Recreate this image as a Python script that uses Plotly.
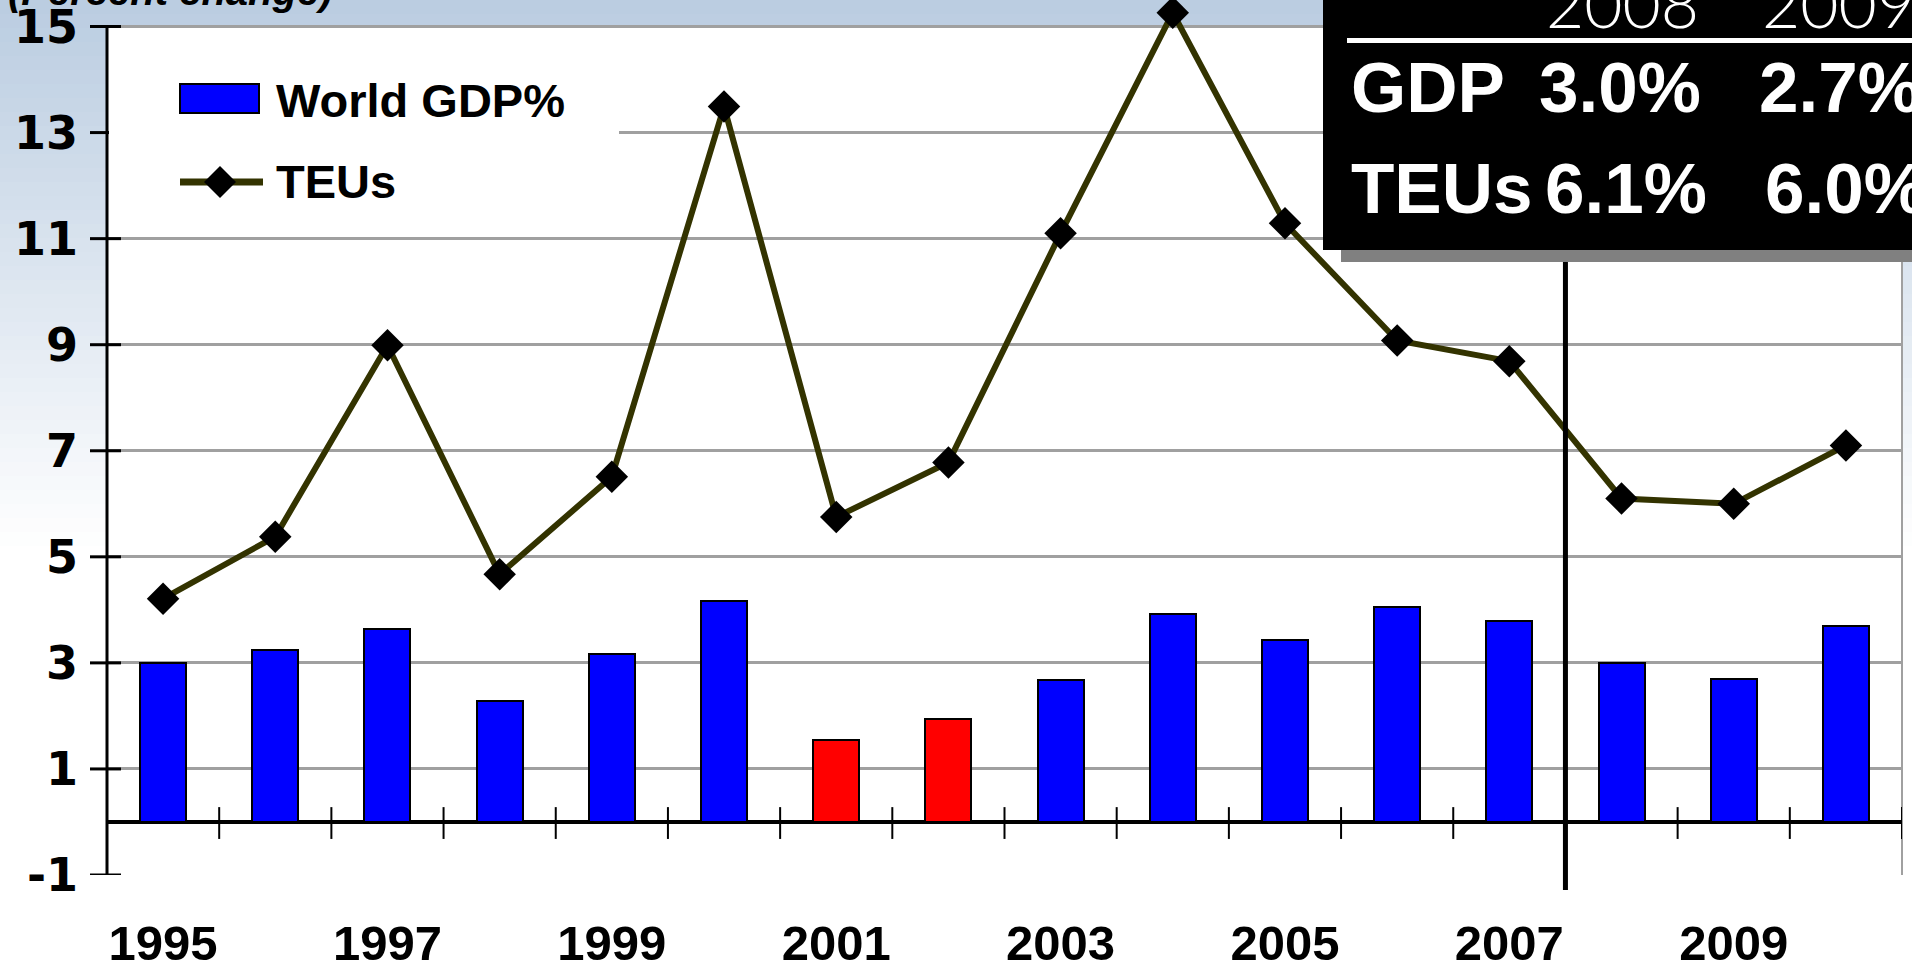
import plotly.graph_objects as go

# ---------------- data ----------------
years = list(range(1995, 2011))
gdp = [3.0, 3.24, 3.63, 2.28, 3.17, 4.16, 1.54, 1.95, 2.67, 3.93, 3.43, 4.05, 3.79, 3.0, 2.7, 3.7]
teus = [4.21, 5.38, 8.99, 4.67, 6.51, 13.49, 5.75, 6.78, 11.1, 15.26, 11.29, 9.08, 8.69, 6.1, 6.0, 7.1]
highlight_years = [2001, 2002]
x_tick_years = [1995, 1997, 1999, 2001, 2003, 2005, 2007, 2009]
y_ticks = [-1, 1, 3, 5, 7, 9, 11, 13, 15]
forecast_split = 2007.5
table_years = ["2008", "2009"]
table_rows = [("GDP", "3.0%", "2.7%"), ("TEUs", "6.1%", "6.0%")]

# ---------------- geometry helpers (pixels -> paper) ----------------
W, H = 1912, 966
ML, MR, MT, MB = 107, 10, 0, 91
PW = W - ML - MR
PH = H - MT - MB


def X(px):
    return (px - ML) / PW


def Y(py):
    return (H - MB - py) / PH


BLUE = "#0000ff"
RED = "#ff0000"
OLIVE = "#333300"
GRID = "#a0a0a0"
ARIAL = "Liberation Sans"

bar_colors = [RED if y in highlight_years else BLUE for y in years]

fig = go.Figure()
fig.add_trace(go.Bar(
    x=years, y=gdp, width=0.41, name="World GDP%",
    marker=dict(color=bar_colors, line=dict(color="black", width=2)),
))
fig.add_trace(go.Scatter(
    x=years, y=teus, mode="lines+markers", name="TEUs",
    line=dict(color=OLIVE, width=6),
    marker=dict(symbol="diamond", size=25, color="black", line=dict(width=0)),
    cliponaxis=False,
))

shapes = []
# background gradient (stripes)
N = 40
top = (187, 205, 225)
g_end = 560
for i in range(N):
    t = i / (N - 1)
    c = tuple(round(top[k] + (255 - top[k]) * t) for k in range(3))
    y0 = g_end * i / N
    y1 = g_end * (i + 1) / N + 1
    shapes.append(dict(type="rect", xref="paper", yref="paper", layer="below",
                       x0=X(0), x1=X(W), y0=Y(y1), y1=Y(y0),
                       fillcolor="rgb(%d,%d,%d)" % c, line=dict(width=0)))
# white plot area
shapes.append(dict(type="rect", xref="paper", yref="y", layer="below",
                   x0=0, x1=1, y0=y_ticks[0], y1=y_ticks[-1],
                   fillcolor="white", line=dict(width=0)))
# left axis line
shapes.append(dict(type="line", xref="paper", yref="y", layer="above",
                   x0=0, x1=0, y0=y_ticks[0], y1=y_ticks[-1],
                   line=dict(color="black", width=3)))
# right border
shapes.append(dict(type="line", xref="paper", yref="y", layer="above",
                   x0=1, x1=1, y0=y_ticks[0], y1=y_ticks[-1],
                   line=dict(color=GRID, width=2)))
# y cross ticks
for v in y_ticks:
    shapes.append(dict(type="line", xref="paper", yref="y", layer="above",
                       x0=-17 / PW, x1=14 / PW, y0=v, y1=v,
                       line=dict(color="black", width=3)))
# x category boundary ticks crossing zero line
for yr in years:
    b = yr + 0.5
    if b == forecast_split:
        continue
    shapes.append(dict(type="line", xref="x", yref="y", layer="above",
                       x0=b, x1=b, y0=-0.32, y1=0.28,
                       line=dict(color="black", width=2)))
# forecast split line
shapes.append(dict(type="line", xref="x", yref="paper", layer="above",
                   x0=forecast_split, x1=forecast_split, y0=Y(890), y1=1,
                   line=dict(color="black", width=5)))
# legend box
shapes.append(dict(type="rect", xref="paper", yref="paper", layer="above",
                   x0=X(109), x1=X(619), y0=Y(232), y1=Y(40),
                   fillcolor="white", line=dict(width=0)))
shapes.append(dict(type="rect", xref="paper", yref="paper", layer="above",
                   x0=X(180), x1=X(259), y0=Y(113), y1=Y(84),
                   fillcolor=BLUE, line=dict(color="black", width=2)))
shapes.append(dict(type="line", xref="paper", yref="paper", layer="above",
                   x0=X(180), x1=X(263), y0=Y(182), y1=Y(182),
                   line=dict(color=OLIVE, width=7)))
cx, cy, r = 220, 182, 16
shapes.append(dict(type="path", xref="paper", yref="paper", layer="above",
                   path="M %f,%f L %f,%f L %f,%f L %f,%f Z" % (
                       X(cx), Y(cy - r), X(cx + r), Y(cy), X(cx), Y(cy + r), X(cx - r), Y(cy)),
                   fillcolor="black", line=dict(width=0)))
# table box with shadow
shapes.append(dict(type="rect", xref="paper", yref="paper", layer="above",
                   x0=X(1341), x1=X(W + 5), y0=Y(262), y1=Y(240),
                   fillcolor="#808080", line=dict(width=0)))
shapes.append(dict(type="rect", xref="paper", yref="paper", layer="above",
                   x0=X(1323), x1=X(W + 5), y0=Y(250), y1=Y(-5),
                   fillcolor="black", line=dict(width=0)))
shapes.append(dict(type="rect", xref="paper", yref="paper", layer="above",
                   x0=X(1347), x1=X(W + 5), y0=Y(43), y1=Y(38),
                   fillcolor="white", line=dict(width=0)))

annotations = []
annotations.append(dict(xref="paper", yref="paper", x=X(6), y=1, xanchor="left", yanchor="bottom",
                        yshift=-15, showarrow=False, text="(Percent change)",
                        font=dict(family=ARIAL, size=40, color="black", weight="bold", style="italic")))
annotations.append(dict(xref="paper", yref="paper", x=X(274), y=Y(100), xanchor="left", yanchor="middle",
                        showarrow=False, text="World GDP%",
                        font=dict(family=ARIAL, size=47, color="black", weight="bold")))
annotations.append(dict(xref="paper", yref="paper", x=X(274), y=Y(181), xanchor="left", yanchor="middle",
                        showarrow=False, text="TEUs",
                        font=dict(family=ARIAL, size=47, color="black", weight="bold")))
col_x = [1622, 1838]
for i, t in enumerate(table_years):
    annotations.append(dict(xref="paper", yref="paper", x=X(col_x[i]), y=Y(2), xanchor="center",
                            yanchor="middle", showarrow=False, text=t,
                            font=dict(family="Lato", size=66, color="white", weight=300)))
row_y = [88, 189]
for j, (lab, v1, v2) in enumerate(table_rows):
    f = dict(family=ARIAL, size=71, color="white", weight="bold")
    annotations.append(dict(xref="paper", yref="paper", x=X(1349), y=Y(row_y[j]), xanchor="left",
                            yanchor="middle", showarrow=False, text=lab, font=f))
    annotations.append(dict(xref="paper", yref="paper", x=X(1620 + 6 * j), y=Y(row_y[j]), xanchor="center",
                            yanchor="middle", showarrow=False, text=v1, font=f))
    annotations.append(dict(xref="paper", yref="paper", x=X(1840 + 6 * j), y=Y(row_y[j]), xanchor="center",
                            yanchor="middle", showarrow=False, text=v2, font=f))

fig.update_layout(
    width=W, height=H,
    margin=dict(l=ML, r=MR, t=MT, b=MB, pad=0, autoexpand=False),
    paper_bgcolor="white", plot_bgcolor="rgba(0,0,0,0)",
    showlegend=False, bargap=0,
    shapes=shapes, annotations=annotations,
    xaxis=dict(range=[years[0] - 0.5, years[-1] + 0.5], tickvals=x_tick_years,
               ticktext=[str(v) for v in x_tick_years], showgrid=False, zeroline=False,
               showline=False, ticks="", ticklabelstandoff=35, automargin=False,
               ticklabeloverflow="allow",
               tickfont=dict(family=ARIAL, size=49, color="black", weight="bold")),
    yaxis=dict(range=[-1, 15.5], tickvals=y_ticks, ticktext=[str(v) for v in y_ticks],
               showgrid=True, gridcolor=GRID, gridwidth=3,
               zeroline=True, zerolinecolor="black", zerolinewidth=4,
               showline=False, ticks="", ticklabelstandoff=28, automargin=False,
               ticklabeloverflow="allow",
               tickfont=dict(family="DejaVu Sans", size=46, color="black", weight="bold")),
)

fig.write_html("out.html", config={"displayModeBar": False},
               post_script="document.body.style.margin='0';document.body.style.overflow='hidden';")
